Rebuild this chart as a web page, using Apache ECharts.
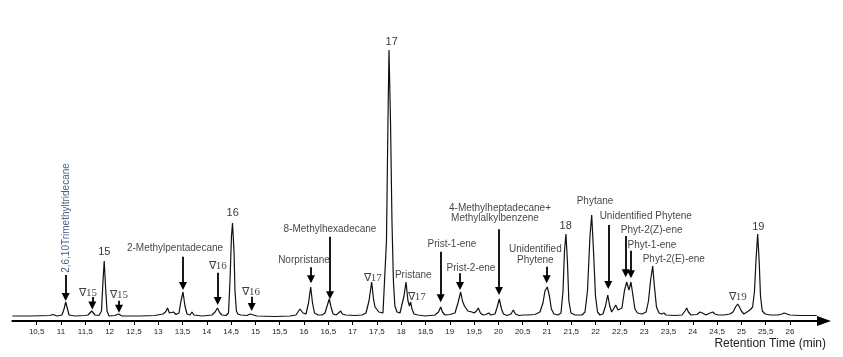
<!DOCTYPE html>
<html><head><meta charset="utf-8">
<script src="https://cdn.jsdelivr.net/npm/echarts@6/dist/echarts.min.js"></script>
<style>html,body{margin:0;padding:0;background:#fff}#c{width:843px;height:357px}</style>
</head><body><div id="c"></div><script>
// Chromatogram trace (retention time in min, detector response in arbitrary units)
const retentionTime = [
10.00,10.36,10.77,10.835,10.876,10.918,11.02,11.062,11.097,11.134,11.165,11.29,11.49,11.556,11.597,11.632,11.669,11.70,11.782,11.833,
11.864,11.889,11.916,11.947,11.988,12.111,12.152,12.183,12.214,12.255,12.626,12.934,13.037,13.099,13.15,13.193,13.23,13.26,13.315,13.366,
13.428,13.469,13.51,13.551,13.593,13.654,13.695,13.736,13.819,13.86,13.9,14.106,14.17,14.22,14.27,14.313,14.395,14.447,14.477,14.508,
14.529,14.56,14.58,14.61,14.64,14.7,14.827,14.889,14.924,14.961,15.033,15.403,15.712,15.835,15.918,15.979,16.041,16.093,16.138,16.175,
16.216,16.288,16.37,16.432,16.475,16.52,16.556,16.6,16.66,16.71,16.755,16.79,16.864,17.05,17.193,17.276,17.337,17.393,17.43,17.461,
17.5,17.54,17.58,17.625,17.665,17.697,17.728,17.749,17.78,17.81,17.84,17.87,17.914,17.975,18.016,18.058,18.099,18.14,18.17,18.195,
18.222,18.263,18.345,18.49,18.695,18.768,18.813,18.85,18.9,19.0,19.107,19.168,19.224,19.261,19.302,19.33,19.37,19.41,19.455,19.5,
19.55,19.586,19.63,19.683,19.745,19.8,19.847,19.93,19.97,20.019,20.064,20.105,20.177,20.26,20.306,20.352,20.424,20.506,20.547,20.588,
20.753,20.855,20.917,20.958,21.006,21.05,21.09,21.144,21.226,21.288,21.33,21.36,21.39,21.42,21.45,21.494,21.577,21.72,21.782,21.833,
21.885,21.92,21.957,21.998,22.04,22.09,22.152,22.204,22.25,22.292,22.33,22.37,22.414,22.46,22.5,22.543,22.593,22.64,22.686,22.728,
22.77,22.81,22.862,22.955,23.04,23.088,23.13,23.175,23.21,23.253,23.305,23.36,23.407,23.45,23.634,23.778,23.84,23.875,23.91,23.963,
24.086,24.148,24.183,24.22,24.27,24.333,24.41,24.457,24.52,24.642,24.765,24.827,24.88,24.924,24.96,25.0,25.05,25.115,25.177,25.232,
25.27,25.3,25.335,25.366,25.393,25.43,25.49,25.59,25.755,25.837,25.88,25.92,26.0,26.206,26.41,26.55
];
const intensity = [
5,5,5.5,6.5,7,5,6,12,19,12,6,5,5.5,6,8,10,8,6,5.5,10,
40,60,35,10,5,5.5,6.5,7,6,5,5,5.5,6.5,7,9,13,8,7,9,6.5,
8,20,29,15,7,6,9,6,5.5,6.5,5,6,9,13,8,6,5.5,8,40,85,
98,70,30,10,7,6,5.5,7,8,6,5,4.5,5,6,12,8,7,18,34,18,
8,6,6,8,15,22,14,7,6,8,10,7,6,5.5,6,8,20,39,22,14,
12,9,10,8,10,80,200,271,200,100,40,15,9,8,10,25,39,20,15,19,
12,7,6,5,6,9,14,9,6,6.5,8,18,29,20,15,14,10,8,9,8,
10,13,8,6,6.5,8,6,7,13,22,12,7,5.5,7,11,7,5.5,6,7,6,
6.5,9,18,30,34,25,12,7,6,8,30,70,87,60,20,8,6,6,9,30,
85,106,70,25,9,6,7,15,26,15,9,12,16,11,10,13,30,39,31,39,
25,12,8,7,9,20,40,55,35,14,8,7,8,6,5.5,6,10,13,9,6,
6.5,9,10,7.5,6,7.5,9,7,6,6,7,9,14,17,14,10,7,9,11,14,
30,60,87,60,25,10,7,6,6,7,8,6.5,6,5.5,5.5,5.5
];

// Axis ticks
const tickValues = [10.5,11,11.5,12,12.5,13,13.5,14,14.5,15,15.5,16,16.5,17,17.5,18,18.5,19,19.5,20,20.5,21,21.5,22,22.5,23,23.5,24,24.5,25,25.5,26];
const tickLabels = ['10,5','11','11,5','12','12,5','13','13,5','14','14,5','15','15,5','16','16,5','17','17,5','18','18,5','19','19,5','20','20,5','21','21,5','22','22,5','23','23,5','24','24,5','25','25,5','26'];
const axisTitle = 'Retention Time (min)';

// Peak labels (anchor in data coordinates)
const peakLabels = ['2,6,10Trimethyltridecane','∇15','15','∇15','2-Methylpentadecane','∇16','16','∇16','Norpristane','8-Methylhexadecane','∇17','17','Pristane','∇17','Prist-1-ene','Prist-2-ene','4-Methylheptadecane+','Methylalkylbenzene','Unidentified\nPhytene','18','Phytane','Unidentified Phytene','Phyt-2(Z)-ene','Phyt-1-ene','Phyt-2(E)-ene','∇19','19'];
const peakLabelTime = [11.103,11.556,11.891,12.193,13.346,14.224,14.533,14.909,16.0,16.535,17.414,17.805,18.249,18.319,19.045,19.436,20.033,19.93,20.76,21.385,21.988,23.033,23.154,23.16,23.609,24.924,25.348];
const peakLabelHeight = [103,28,69.3,26,72.7,55,107.7,29.3,60.3,92,42.7,279.3,46,23.7,76.7,52.7,112.7,102.7,66.5,95.3,119.3,104.3,91,75.3,62,24.3,94.3];

// Arrows (time, start height, tip height)
const arrowTime = [11.097,11.644,12.193,13.51,14.224,14.924,16.144,16.535,18.813,19.21,20.012,20.994,22.261,22.619,22.728];
const arrowFrom = [46,24,20.3,64.3,48.3,24.3,53.7,84.3,69.3,47.7,91.7,54.3,96,85,70.3];
const arrowTip  = [20,11.5,8.3,31,16,10,37.7,21.7,18.7,31,26,37.7,32,43.7,42.7];

const SANS = 'Liberation Sans, Arial, sans-serif';
const SERIF = 'Liberation Serif, Times New Roman, serif';
const HEAD = 8;

function labelStyle(name, i) {
  if (i === 0) return {fontFamily: SANS, fontSize: 10, color: '#1c3668', rotate: 90};
  if (name.charAt(0) === '∇') return {fontFamily: SERIF, fontSize: 11, color: '#111'};
  if (/^\d+$/.test(name)) return {fontFamily: SANS, fontSize: 11, color: '#000'};
  return {fontFamily: SANS, fontSize: 10, color: '#111', lineHeight: 11};
}

const chart = echarts.init(document.getElementById('c'), null, {renderer: 'canvas'});
chart.setOption({
  animation: false,
  backgroundColor: '#fff',
  grid: {left: 12.4, right: 19, top: 21, bottom: 36},
  xAxis: {
    type: 'value', min: 10, max: 26.7,
    axisLine: {show: true, symbol: ['none', 'triangle'], symbolSize: [10, 14], lineStyle: {color: '#000', width: 2}},
    axisTick: {show: true, customValues: tickValues, length: 4, lineStyle: {color: '#000', width: 1}},
    axisLabel: {
      customValues: tickValues, margin: 7, fontSize: 8, color: '#222', fontFamily: SANS,
      formatter: function (v) { const k = tickValues.findIndex(t => Math.abs(t - v) < 1e-6); return k >= 0 ? tickLabels[k] : ''; }
    },
    splitLine: {show: false}
  },
  yAxis: {type: 'value', min: 0, max: 300, show: false},
  series: [
    {
      type: 'line', showSymbol: false, silent: true,
      data: retentionTime.map((t, i) => [t, intensity[i]]),
      lineStyle: {color: '#111', width: 1.2},
      markLine: {
        silent: true, animation: false,
        symbol: ['none', 'triangle'], symbolSize: HEAD,
        label: {show: false},
        emphasis: {disabled: true},
        lineStyle: {color: '#000', width: 1.8, type: 'solid'},
        data: arrowTime.map((t, i) => [{coord: [t, arrowFrom[i]]}, {coord: [t, arrowTip[i] + HEAD / 2]}])
      }
    },
    {
      type: 'scatter', silent: true, symbolSize: 1,
      itemStyle: {color: 'rgba(0,0,0,0)'},
      data: peakLabels.map((n, i) => ({
        value: [peakLabelTime[i], peakLabelHeight[i]], name: n,
        label: Object.assign({show: true, position: 'inside', formatter: n, align: 'center', verticalAlign: 'middle'}, labelStyle(n, i))
      }))
    }
  ],
  graphic: [{
    type: 'text', right: 17, top: 338, silent: true,
    style: {text: axisTitle, font: '12px ' + SANS, fill: '#222'}
  }]
});
</script></body></html>
